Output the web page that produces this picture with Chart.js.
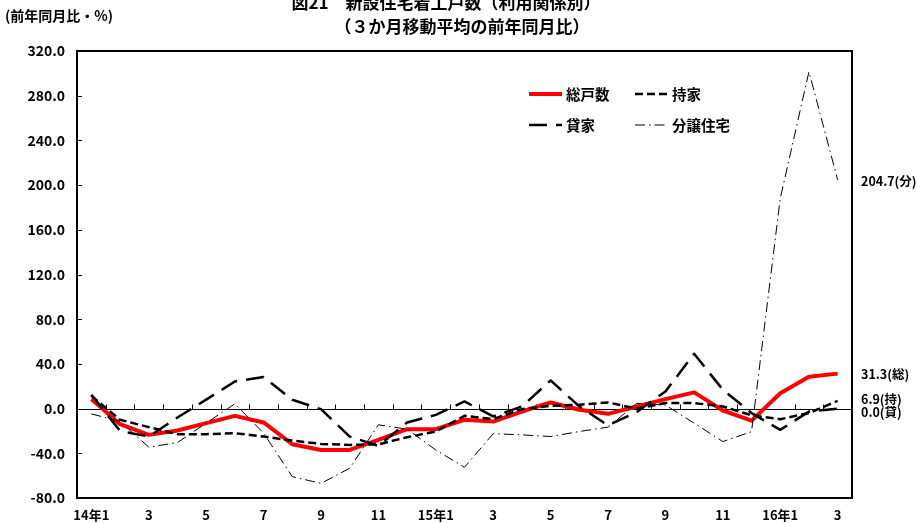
<!DOCTYPE html>
<html>
<head>
<meta charset="utf-8">
<script src="https://cdn.jsdelivr.net/npm/chart.js@4.4.1/dist/chart.umd.min.js"></script>
<style>
  html, body { margin: 0; padding: 0; background: #fff; }
  #wrap { width: 917px; height: 523px; position: relative; }
</style>
</head>
<body>
<div id="wrap"><canvas id="c" width="917" height="523"></canvas></div>
<script>
// Months from Jan 2014 to Mar 2016
const categories = [
  '2014-01','2014-02','2014-03','2014-04','2014-05','2014-06','2014-07','2014-08','2014-09','2014-10','2014-11','2014-12',
  '2015-01','2015-02','2015-03','2015-04','2015-05','2015-06','2015-07','2015-08','2015-09','2015-10','2015-11','2015-12',
  '2016-01','2016-02','2016-03'
];
const tickLabels = [
  '14年1','','3','','5','','7','','9','','11','',
  '15年1','','3','','5','','7','','9','','11','',
  '16年1','','3'
];
const yTicks = [-80, -40, 0, 40, 80, 120, 160, 200, 240, 280, 320];

// Year-on-year change of 3-month moving average (%)
const total = [8.5, -13.9, -23.5, -19.6, -13.0, -6.5, -12.4, -31.9, -37.0, -37.0, -28.0, -18.4,
               -18.4, -10.0, -11.6, -2.6, 5.5, -1.0, -4.7, 1.9, 8.5, 14.5, -1.7, -10.8,
               13.7, 28.5, 31.3];
const owner = [11.5, -10.0, -16.6, -22.9, -22.9, -22.0, -25.0, -28.6, -31.6, -32.5, -32.0, -25.6,
               -20.5, -6.5, -9.4, -0.5, 2.5, 3.4, 5.5, 0.0, 5.0, 5.0, 1.9, -6.0,
               -9.5, -4.0, 6.9];
const rental = [12.4, -20.0, -25.0, -8.0, 8.0, 24.3, 28.2, 7.9, -0.5, -25.0, -33.4, -12.4,
                -5.6, 6.4, -7.0, 1.9, 25.2, 2.0, -15.0, -3.0, 15.3, 49.0, 16.9, -4.0,
                -19.0, -2.7, 0.0];
const condo = [-4.7, -11.5, -34.5, -30.4, -13.0, 4.3, -22.0, -60.9, -66.9, -53.4, -14.5, -18.4,
               -37.0, -52.5, -22.4, -23.5, -25.0, -20.5, -16.6, 4.7, 3.2, -13.0, -29.5, -20.7,
               188.0, 301.5, 204.7];

const FONT = '"Noto Sans CJK JP", "Noto Sans", sans-serif';

const series = [
  { key: 'total',  name: '総戸数',   tag: '総', data: total,  color: '#ff0000', width: 4,   dash: [],            order: 4 },
  { key: 'owner',  name: '持家',     tag: '持', data: owner,  color: '#000000', width: 2.5, dash: [8, 4],        order: 2 },
  { key: 'rental', name: '貸家',     tag: '貸', data: rental, color: '#000000', width: 2.5, dash: [18, 9],       order: 1 },
  { key: 'condo',  name: '分譲住宅', tag: '分', data: condo,  color: '#000000', width: 1,   dash: [10, 4, 1.5, 4], order: 3 }
];

const decor = {
  id: 'decor',
  beforeDatasetsDraw(chart) {
    const { ctx, chartArea: a, scales: { x, y } } = chart;
    ctx.save();
    ctx.strokeStyle = '#000';
    ctx.lineWidth = 1;
    ctx.setLineDash([]);
    ctx.beginPath();
    // zero line with small ticks between months
    const y0 = Math.round(y.getPixelForValue(0)) + 0.5;
    ctx.moveTo(a.left, y0);
    ctx.lineTo(a.right, y0);
    for (let i = 1; i < categories.length; i++) {
      const px = Math.round((x.getPixelForValue(i - 1) + x.getPixelForValue(i)) / 2) + 0.5;
      ctx.moveTo(px, y0);
      ctx.lineTo(px, y0 - 5);
    }
    // inward ticks on the value axis
    yTicks.forEach(v => {
      const py = Math.round(y.getPixelForValue(v)) + 0.5;
      ctx.moveTo(a.left, py);
      ctx.lineTo(a.left + 5, py);
    });
    ctx.stroke();
    ctx.restore();
  },
  afterDraw(chart) {
    const { ctx, chartArea: a, scales: { y } } = chart;
    ctx.save();
    // frame
    ctx.strokeStyle = '#000';
    ctx.lineWidth = 2;
    ctx.setLineDash([]);
    ctx.strokeRect(a.left, a.top, a.right - a.left, a.bottom - a.top);

    // titles
    ctx.fillStyle = '#000';
    ctx.textBaseline = 'middle';
    ctx.textAlign = 'center';
    ctx.font = 'bold 17px ' + FONT;
    ctx.fillText('図21　新設住宅着工戸数（利用関係別）', 446, 3);
    ctx.fillText('（３か月移動平均の前年同月比）', 462, 27);
    ctx.textAlign = 'left';
    ctx.font = 'bold 14px ' + FONT;
    ctx.fillText('(前年同月比・%)', 5, 16);

    // legend
    const legendPos = [
      { s: series[0], lx: 529, ly: 94 },
      { s: series[1], lx: 635, ly: 94 },
      { s: series[2], lx: 529, ly: 125 },
      { s: series[3], lx: 635, ly: 125 }
    ];
    legendPos.forEach(({ s, lx, ly }) => {
      ctx.strokeStyle = s.color;
      ctx.lineWidth = s.width;
      ctx.setLineDash(s.dash);
      ctx.beginPath();
      ctx.moveTo(lx, ly);
      ctx.lineTo(lx + 33, ly);
      ctx.stroke();
      ctx.setLineDash([]);
      ctx.fillStyle = '#000';
      ctx.font = 'bold 14.5px ' + FONT;
      ctx.textAlign = 'left';
      ctx.fillText(s.name, lx + 37, ly);
    });

    // end-of-series value labels, pushed apart when they collide
    const last = categories.length - 1;
    const labels = series.map(s => ({
      text: s.data[last].toFixed(1) + '(' + s.tag + ')',
      y: y.getPixelForValue(s.data[last])
    })).sort((p, q) => p.y - q.y);
    const gap = 13.5;
    for (let pass = 0; pass < 5; pass++) {
      for (let i = 1; i < labels.length; i++) {
        const d = labels[i].y - labels[i - 1].y;
        if (d < gap) {
          const push = (gap - d) / 2;
          labels[i - 1].y -= push;
          labels[i].y += push;
        }
      }
    }
    ctx.font = 'bold 12.5px ' + FONT;
    ctx.textAlign = 'left';
    labels.forEach(l => ctx.fillText(l.text, a.right + 9, l.y + 1));
    ctx.restore();
  }
};

new Chart(document.getElementById('c'), {
  type: 'line',
  data: {
    labels: categories,
    datasets: series.map(s => ({
      label: s.name,
      data: s.data,
      borderColor: s.color,
      backgroundColor: s.color,
      borderWidth: s.width,
      borderDash: s.dash,
      borderCapStyle: 'butt',
      borderJoinStyle: 'round',
      pointRadius: 0,
      tension: 0,
      fill: false,
      order: s.order
    }))
  },
  options: {
    responsive: false,
    animation: false,
    devicePixelRatio: 1,
    layout: { padding: { top: 51, right: 65, left: 0, bottom: 0 } },
    plugins: { legend: { display: false }, tooltip: { enabled: false }, title: { display: false } },
    scales: {
      x: {
        type: 'category',
        offset: true,
        grid: { display: false, drawTicks: false },
        border: { display: false },
        ticks: {
          autoSkip: false, maxRotation: 0, minRotation: 0, padding: 9, color: '#000',
          font: { family: FONT, size: 13, weight: 'bold' },
          callback: (v, i) => tickLabels[i]
        },
        afterFit: s => { s.height = 25; }
      },
      y: {
        min: -80, max: 320,
        afterBuildTicks: s => { s.ticks = yTicks.map(v => ({ value: v })); },
        grid: { display: false, drawTicks: false },
        border: { display: false },
        ticks: {
          padding: 12, color: '#000',
          font: { family: FONT, size: 14, weight: 'bold' },
          callback: v => Number(v).toFixed(1)
        },
        afterFit: s => { s.width = 77; }
      }
    }
  },
  plugins: [decor]
});
</script>
</body>
</html>
